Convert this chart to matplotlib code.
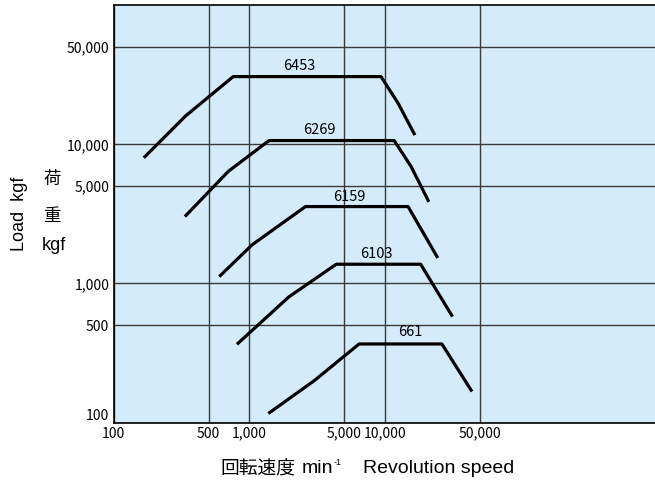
import matplotlib.pyplot as plt
from matplotlib.ticker import FixedLocator, NullLocator

plt.rcParams['font.family'] = ['Noto Sans CJK JP', 'DejaVu Sans']

# bearing curves: speed (min^-1) vs load (kgf)
models = ["6453", "6269", "6159", "6103", "661"]
speeds = [
    [167, 339, 760, 9290, 12400, 16500],
    [335, 700, 1394, 11620, 15500, 20900],
    [600, 1050, 2585, 14700, 24300],
    [809, 1950, 4350, 18200, 31200],
    [1377, 3000, 6410, 26060, 43400],
]
loads = [
    [8000, 16000, 30700, 30700, 19800, 11650],
    [3025, 6400, 10650, 10650, 6900, 3860],
    [1120, 1900, 3570, 3570, 1525],
    [365, 800, 1374, 1374, 577],
    [116, 200, 367, 367, 167],
]
label_x = [2310, 3290, 5450, 8540, 15380]
label_y = [36300, 12700, 4210, 1630, 450]

ticks = [100, 500, 1000, 5000, 10000, 50000]
tick_labels = ["100", "500", "1,000", "5,000", "10,000", "50,000"]

fig = plt.figure(figsize=(6.55, 4.88), dpi=100)
ax = fig.add_axes([0.1733, 0.1342, 0.83, 0.855])
ax.set_facecolor("#d4ecf9")

for s, l in zip(speeds, loads):
    ax.plot(s, l, color="black", lw=2.3, solid_capstyle="butt", zorder=3)
for m, x, y in zip(models, label_x, label_y):
    ax.text(x, y, m, ha="center", va="center", fontsize=10.5, zorder=4)

ax.set_xscale("log")
ax.set_yscale("log")
ax.set_xlim(100, 1e6)
ax.set_ylim(100, 1e5)

ax.xaxis.set_major_locator(FixedLocator(ticks))
ax.yaxis.set_major_locator(FixedLocator(ticks))
ax.xaxis.set_minor_locator(NullLocator())
ax.yaxis.set_minor_locator(NullLocator())
ax.set_xticklabels(tick_labels, fontsize=10)
ax.set_yticklabels(tick_labels, fontsize=10)
ax.tick_params(length=0, pad=3)
ax.get_yticklabels()[0].set_verticalalignment("bottom")
ax.grid(True, color="#3a3a3a", lw=1)
ax.set_axisbelow(True)

for side in ["left", "bottom", "top"]:
    ax.spines[side].set_color("black")
    ax.spines[side].set_linewidth(1.2)
ax.spines["right"].set_visible(False)

lab_font = ["Liberation Sans", "DejaVu Sans"]
jp_font = ["Noto Sans CJK JP"]
fig.text(0.03, 0.562, "Load  kgf", rotation=90, ha="center", va="center",
         fontsize=13, family=lab_font)
fig.text(0.079, 0.633, "荷", ha="center", va="center", fontsize=12.5, family=jp_font)
fig.text(0.079, 0.558, "重", ha="center", va="center", fontsize=12.5, family=jp_font)
fig.text(0.082, 0.497, "kgf", ha="center", va="center", fontsize=13, family=lab_font)

# x axis title, built from pieces
fig.text(0.336, 0.039, "回転速度", ha="left", va="center", fontsize=13.5, family=jp_font)
fig.text(0.461, 0.039, "min", ha="left", va="center", fontsize=14, family=lab_font)
fig.text(0.509, 0.053, "-1", ha="left", va="center", fontsize=6.5, family=lab_font)
fig.text(0.554, 0.039, "Revolution speed", ha="left", va="center",
         fontsize=14, family=lab_font)

fig.savefig("out.png", dpi=100)
